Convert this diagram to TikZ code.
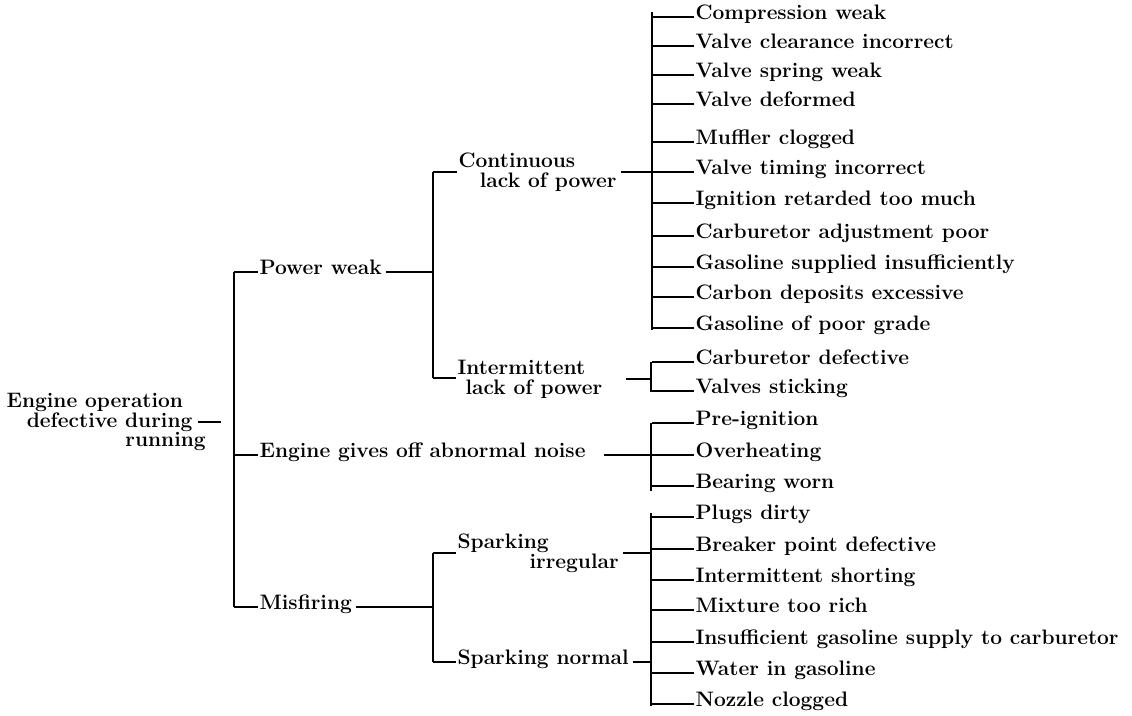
\documentclass[tikz,border=0pt]{standalone}
\usepackage{fontspec}
\begin{document}
\begin{tikzpicture}[x=0.75pt,y=-0.75pt,
  lbl/.style={anchor=mid west,inner xsep=1pt,inner ysep=0pt,font=\fontsize{15.7}{14.8}\bfseries},
  twoline/.style={lbl,anchor=west,align=left},
  link/.style={line width=1.35pt}]
  \useasboundingbox (0,0) rectangle (1132,716);
  % root
  \node[twoline,anchor=east,align=right] (root) at (194,422)
    {Engine operation\hspace*{7pt}\\defective during\\running\hspace*{-10pt}};
  \coordinate (r1) at (234,272);
  \coordinate (r2) at (234,607);
  \draw[link] (r1) -- (r2);
  \draw[link,shorten <=3pt,shorten >=10pt] (root.east) -- (root.east -| r1);
  % first level
  \node[lbl] (pw) at (258,272) {Power weak};
  \node[lbl] (noise) at (258,455) {Engine gives off abnormal noise};
  \node[lbl] (mis) at (258,607) {Misfiring};
  \draw[link] (r1) -- (pw.mid west);
  \draw[link] (noise.mid west -| r1) -- (noise.mid west);
  \draw[link] (r2) -- (mis.mid west);
  % second level
  \coordinate (p1) at (433,172);
  \coordinate (p2) at (433,378);
  \draw[link] (p1) -- (p2);
  \draw[link,shorten <=2pt] (pw.mid east) -- (pw.mid east -| p1);
  \node[twoline] (cont) at (457,172) {Continuous\\\hspace*{16pt}lack of power};
  \node[twoline] (inter) at (456,379) {Intermittent\\\hspace*{6pt}lack of power};
  \draw[link] (p1) -- (p1 -| cont.west);
  \draw[link] (p2) -- (p2 -| inter.west);
  \coordinate (m1) at (433,553);
  \coordinate (m2) at (433,662);
  \draw[link] (m1) -- (m2);
  \draw[link,shorten <=2pt] (mis.mid east) -- (mis.mid east -| m1);
  \node[twoline] (spirr) at (456,553) {Sparking\\\hspace*{54pt}irregular};
  \node[lbl] (spnorm) at (456,662) {Sparking normal};
  \draw[link] (m1) -- (m1 -| spirr.west);
  \draw[link] (m2) -- (spnorm.mid west);
  % leaf bars
  \coordinate (a1) at (652,12);
  \coordinate (a2) at (652,330);
  \coordinate (b1) at (651,362);
  \coordinate (b2) at (651,392);
  \coordinate (c1) at (651,423);
  \coordinate (c2) at (651,491);
  \coordinate (d1) at (651,513);
  \coordinate (d2) at (651,706);
  \draw[link] (a1) -- (a2);
  \draw[link] (b1) -- (b2);
  \draw[link] (c1) -- (c2);
  \draw[link] (d1) -- (d2);
  \draw[link,shorten <=2pt] (cont.east) -- (cont.east -| a1);
  \draw[link,shorten <=17pt] (inter.east) -- (inter.east -| b1);
  \draw[link,shorten <=13pt] (noise.mid east) -- (noise.mid east -| c1);
  \draw[link,shorten <=2pt] (spirr.east) -- (spirr.east -| d1);
  \draw[link,shorten <=2pt] (spnorm.mid east) -- (spnorm.mid east -| d1);
  % leaves
  \foreach \y/\nm/\txt in {
    17/compr/Compression weak,
    46/vclear/Valve clearance incorrect,
    75/vspring/Valve spring weak,
    104/vdef/Valve deformed,
    142/muff/Muffler clogged,
    172/vtime/Valve timing incorrect,
    203/ignret/Ignition retarded too much,
    236/carbadj/Carburetor adjustment poor,
    267/gasins/Gasoline supplied insufficiently,
    297/carbon/Carbon deposits excessive,
    328/gaspoor/Gasoline of poor grade,
    362/carbdef/Carburetor defective,
    391/vstick/Valves sticking,
    423/preign/Pre-ignition,
    455/overh/Overheating,
    486/bear/Bearing worn,
    517/plugs/Plugs dirty,
    549/breaker/Breaker point defective,
    580/short/Intermittent shorting,
    610/rich/Mixture too rich,
    642/supply/Insufficient gasoline supply to carburetor,
    673/water/Water in gasoline,
    704/nozzle/Nozzle clogged}
  {
    \node[lbl] (\nm) at (694,\y) {\txt};
    \draw[link] (\nm.mid west) -- (\nm.mid west -| a1);
  }
\end{tikzpicture}
\end{document}
